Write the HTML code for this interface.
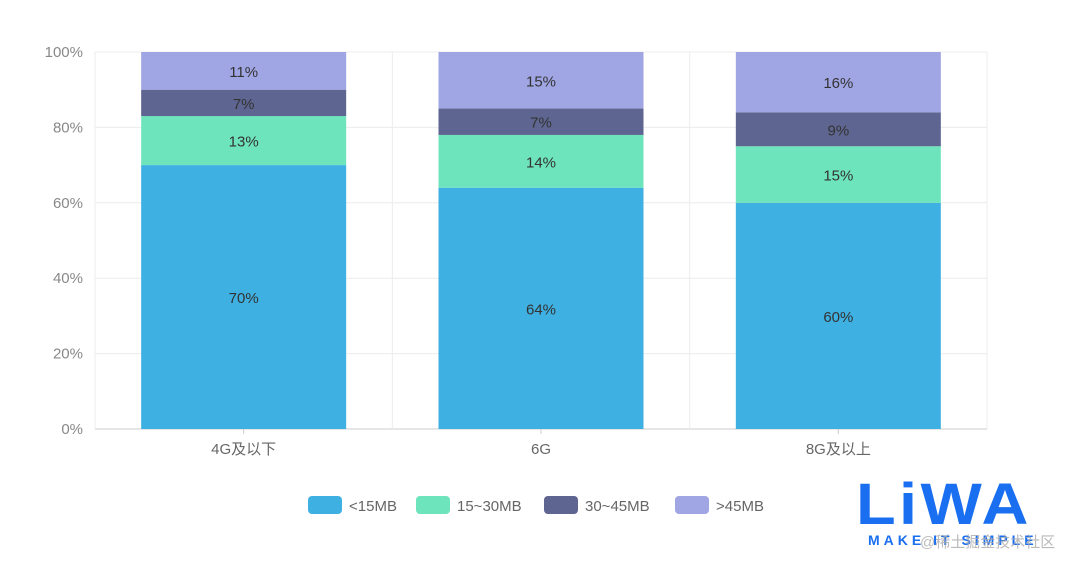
<!DOCTYPE html>
<html><head><meta charset="utf-8">
<style>
body{margin:0;background:#fff;width:1080px;height:557px;overflow:hidden;font-family:"Liberation Sans","Noto Sans CJK SC",sans-serif;position:relative}
svg text{font-family:"Liberation Sans","Noto Sans CJK SC",sans-serif}
</style></head>
<body>
<svg id="chart" width="1080" height="557" xmlns="http://www.w3.org/2000/svg"></svg>
<div style="position:absolute;left:856px;top:478px;width:220px;height:79px;white-space:nowrap">
  <div style="font:900 58px/54px 'Liberation Sans',sans-serif;color:#1a6ff0;letter-spacing:3px;transform:scaleX(1.12);transform-origin:left">LiWA</div>
  <div style="position:absolute;left:12px;top:54px;font:bold 14px 'Liberation Sans',sans-serif;color:#1a6ff0;letter-spacing:4px">MAKE IT SIMPLE</div>
  <div style="position:absolute;left:64px;top:53px;font:15px 'Liberation Sans','Noto Sans CJK SC',sans-serif;color:#aaa;opacity:.8;white-space:nowrap">@稀土掘金技术社区</div>
</div>
<script>
const categories=["4G及以下","6G","8G及以上"];
const seriesNames=["<15MB","15~30MB","30~45MB",">45MB"];
const s1=[70,64,60];
const s2=[13,14,15];
const s3=[7,7,9];
const s4=[11,15,16];
const yTicks=[0,20,40,60,80,100];
const colors=["#3eb0e2","#6de4bb","#5d6590","#a0a5e4"];
const series=[s1,s2,s3,s4];
const svg=document.getElementById('chart');
const NS="http://www.w3.org/2000/svg";
const L=95,R=987,T=52,B=429;
const y=v=>B-(v/100)*(B-T);
const band=(R-L)/categories.length;
const xc=i=>L+band*(i+0.5);
const bw=205;
function mk(tag,attrs,parent){const e=document.createElementNS(NS,tag);for(const k in attrs)e.setAttribute(k,attrs[k]);(parent||svg).appendChild(e);return e;}
yTicks.forEach(t=>{
  const g=mk('line',{x1:L,x2:R,y1:y(t),y2:y(t),stroke:t===0?'#ccc':'#ececec','stroke-width':1});
  
  
  const tx=mk('text',{x:L-12,y:y(t)+5,'text-anchor':'end','font-size':15,fill:'#888'});
  tx.textContent=t+'%';
  
  
});
for(let i=0;i<=categories.length;i++){
  const g=mk('line',{x1:L+band*i,x2:L+band*i,y1:T,y2:B,stroke:'#ececec'});
  
  
}
categories.forEach((c,i)=>{
  let cum=0;
  series.forEach((s,k)=>{
    const v0=cum,v1=Math.min(100,cum+s[i]);cum+=s[i];
    const r=mk('rect',{x:xc(i)-bw/2,y:y(v1),width:bw,height:y(v0)-y(v1),fill:colors[k]});
    
    
    const t=mk('text',{x:xc(i),y:(y(v0)+y(v1))/2+6,'text-anchor':'middle','font-size':15,fill:'#333'});
    t.textContent=s[i]+'%';
    
    
  });
  const tk=mk('line',{x1:xc(i),x2:xc(i),y1:B,y2:B+5,stroke:'#ccc'});
  
  
  const xl=mk('text',{x:xc(i),y:B+25,'text-anchor':'middle','font-size':15,fill:'#666'});
  xl.textContent=c;
  
  
});
const legX=[308,416,544,675];
seriesNames.forEach((n,k)=>{
  const r=mk('rect',{x:legX[k],y:496,width:34,height:18,rx:4,fill:colors[k]});
  
  
  const t=mk('text',{x:legX[k]+41,y:511,'font-size':15,fill:'#666'});
  t.textContent=n;
  
  
});
</script>
</body></html>
